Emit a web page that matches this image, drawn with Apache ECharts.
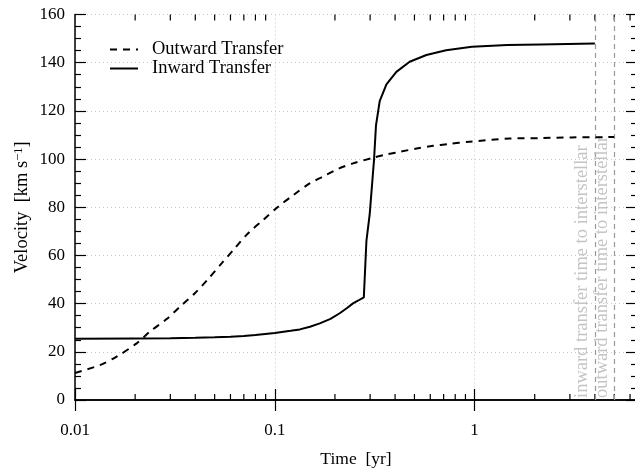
<!DOCTYPE html>
<html style="height: 100%">
<head>
	<meta charset="utf-8">
</head>
<body style="height: 100%; margin: 0; background: #fff">
<div id="container" style="width: 635px; height: 473px"></div>
<script type="text/javascript" src="https://cdn.jsdelivr.net/npm/echarts@6/dist/echarts.min.js"></script>
<script type="text/javascript">
    // time in years, velocity in km/s
    var outwardTime = [0.01, 0.01334, 0.01616, 0.02035, 0.02371, 0.02875, 0.0335, 0.03981, 0.04624, 0.05418,
        0.0631, 0.07352, 0.08738, 0.1039, 0.1236, 0.1496, 0.1741, 0.207, 0.2463, 0.3098,
        0.3612, 0.4217, 0.5129, 0.6205, 0.7362, 0.9441, 1.496, 2.126, 3.062, 4.576, 5.0];
    var outwardVel = [11.2, 14.5, 18, 23.5, 28.4, 33.6, 38.7, 44.3, 50.1, 56.7,
        63, 69.2, 74.7, 80.2, 85, 89.9, 92.7, 95.9, 98.2, 100.5,
        101.9, 103, 104.4, 105.5, 106.2, 107.2, 108.5, 108.7, 109, 109.1, 109.2];

    var inwardTime = [0.01, 0.02, 0.03, 0.04, 0.05, 0.06, 0.07, 0.08, 0.1, 0.12,
        0.1334, 0.15, 0.168, 0.19, 0.2113, 0.23, 0.2463, 0.262, 0.279, 0.2875,
        0.2985, 0.314, 0.321, 0.335, 0.362, 0.406, 0.473, 0.574, 0.72, 0.97,
        1.46, 2.14, 4.0];
    var inwardVel = [25.4, 25.5, 25.6, 25.8, 26.0, 26.3, 26.6, 27.0, 27.8, 28.7,
        29.3, 30.4, 31.8, 33.7, 36, 38.2, 40.1, 41.3, 42.6, 66,
        77, 100, 114, 124, 131, 136.2, 140.4, 143.2, 145.2, 146.6,
        147.3, 147.6, 148];

    var seriesNames = ["Outward Transfer", "Inward Transfer"];
    var markerTimes = [4, 5];
    var markerTexts = ["inward transfer time to interstellar", "outward transfer time to interstellar"];
    var minorTimes = [0.02, 0.03, 0.04, 0.05, 0.06, 0.07, 0.08, 0.09,
        0.2, 0.3, 0.4, 0.5, 0.6, 0.7, 0.8, 0.9, 2, 3, 4, 5, 6];

    var FONT = "Liberation Serif";
    var dom = document.getElementById("container");
    var myChart = echarts.init(dom);

    function zip(xs, ys) {
        var out = [];
        for (var i = 0; i < xs.length; i++) {
            out.push([xs[i], ys[i]]);
        }
        return out;
    }

    var markData = [];
    for (var i = 0; i < markerTimes.length; i++) {
        markData.push({
            xAxis: markerTimes[i],
            label: {formatter: markerTexts[i]}
        });
    }

    var tickStyle = {show: true, inside: true, length: 11, lineStyle: {color: '#000', width: 1.2}};
    var gridDots = {show: true, lineStyle: {color: '#c8c8c8', type: [1, 3], width: 1}};

    var option = {
        animation: false,
        backgroundColor: '#fff',
        textStyle: {fontFamily: FONT},
        grid: {left: 75, top: 14.5, width: 562, height: 385.5, outerBoundsMode: 'none', containLabel: false},
        legend: {
            data: seriesNames,
            orient: 'vertical',
            left: 104,
            top: 35,
            itemWidth: 28,
            itemHeight: 14,
            itemGap: 0,
            itemStyle: {opacity: 0},
            textStyle: {fontFamily: FONT, fontSize: 18.5, color: '#000', padding: [0, 0, 0, 9]}
        },
        xAxis: [{
            type: 'log',
            logBase: 10,
            min: 0.01,
            max: 6.5,
            name: 'Time  [yr]',
            nameLocation: 'middle',
            nameGap: 50,
            nameTextStyle: {fontFamily: FONT, fontSize: 17.5, color: '#000'},
            axisLine: {show: true, lineStyle: {color: '#000', width: 1.5}},
            axisTick: tickStyle,
            axisLabel: {
                fontFamily: FONT, fontSize: 17, color: '#000', margin: 22,
                showMaxLabel: false,
                formatter: function (v) { return String(v); }
            },
            splitLine: gridDots
        }, {
            type: 'log',
            logBase: 10,
            min: 0.01,
            max: 6.5,
            position: 'top',
            axisLine: {show: true, lineStyle: {color: '#000', width: 1.5}},
            axisTick: tickStyle,
            axisLabel: {show: false},
            splitLine: {show: false}
        }],
        yAxis: [{
            type: 'value',
            min: 0,
            max: 160,
            interval: 20,
            name: '{a|Velocity  [km s}{s|\u22121}{a|]}',
            nameLocation: 'middle',
            nameGap: 43,
            nameMoveOverlap: false,
            nameTextStyle: {
                rich: {
                    a: {fontFamily: FONT, fontSize: 18.5, color: '#000', lineHeight: 20},
                    s: {fontFamily: FONT, fontSize: 12.5, color: '#000', verticalAlign: 'top', lineHeight: 20, padding: [0, 0, 7, 0]}
                }
            },
            axisLine: {show: true, lineStyle: {color: '#000', width: 1.5}},
            axisTick: tickStyle,
            minorTick: {show: true, splitNumber: 4, length: 6, lineStyle: {color: '#000', width: 1.2}},
            axisLabel: {fontFamily: FONT, fontSize: 17, color: '#000', margin: 10},
            splitLine: gridDots
        }, {
            type: 'value',
            min: 0,
            max: 160,
            interval: 20,
            position: 'right',
            axisLine: {show: true, lineStyle: {color: '#000', width: 1.5}},
            axisTick: tickStyle,
            minorTick: {show: true, splitNumber: 4, length: 6, lineStyle: {color: '#000', width: 1.2}},
            axisLabel: {show: false},
            splitLine: {show: false}
        }],
        series: [{
            name: seriesNames[0],
            type: 'line',
            data: zip(outwardTime, outwardVel),
            showSymbol: false,
            symbol: 'none',
            smooth: 0.3,
            lineStyle: {color: '#000', width: 2, type: [7, 6]},
            itemStyle: {color: '#000'},
            z: 5,
            markLine: {
                silent: true,
                symbol: 'none',
                lineStyle: {color: '#9a9a9a', width: 1.2, type: [5, 4]},
                label: {
                    position: 'insideStartTop',
                    distance: [2, 3],
                    fontFamily: FONT,
                    fontSize: 18.5,
                    color: '#c4c4c4'
                },
                data: markData
            }
        }, {
            name: seriesNames[1],
            type: 'line',
            data: zip(inwardTime, inwardVel),
            showSymbol: false,
            symbol: 'none',
            lineStyle: {color: '#000', width: 2},
            itemStyle: {color: '#000'},
            z: 6
        }, {
            name: 'minor',
            type: 'custom',
            silent: true,
            data: minorTimes.map(function (t) { return [t]; }),
            renderItem: function (params, api) {
                var b = api.coord([api.value(0), 0]);
                var t = api.coord([api.value(0), 160]);
                var st = {stroke: '#000', lineWidth: 1.2};
                return {
                    type: 'group',
                    children: [
                        {type: 'line', shape: {x1: b[0], y1: b[1], x2: b[0], y2: b[1] - 6}, style: st},
                        {type: 'line', shape: {x1: t[0], y1: t[1], x2: t[0], y2: t[1] + 6}, style: st}
                    ]
                };
            }
        }]
    };

    myChart.setOption(option, true);
</script>
</body>
</html>
